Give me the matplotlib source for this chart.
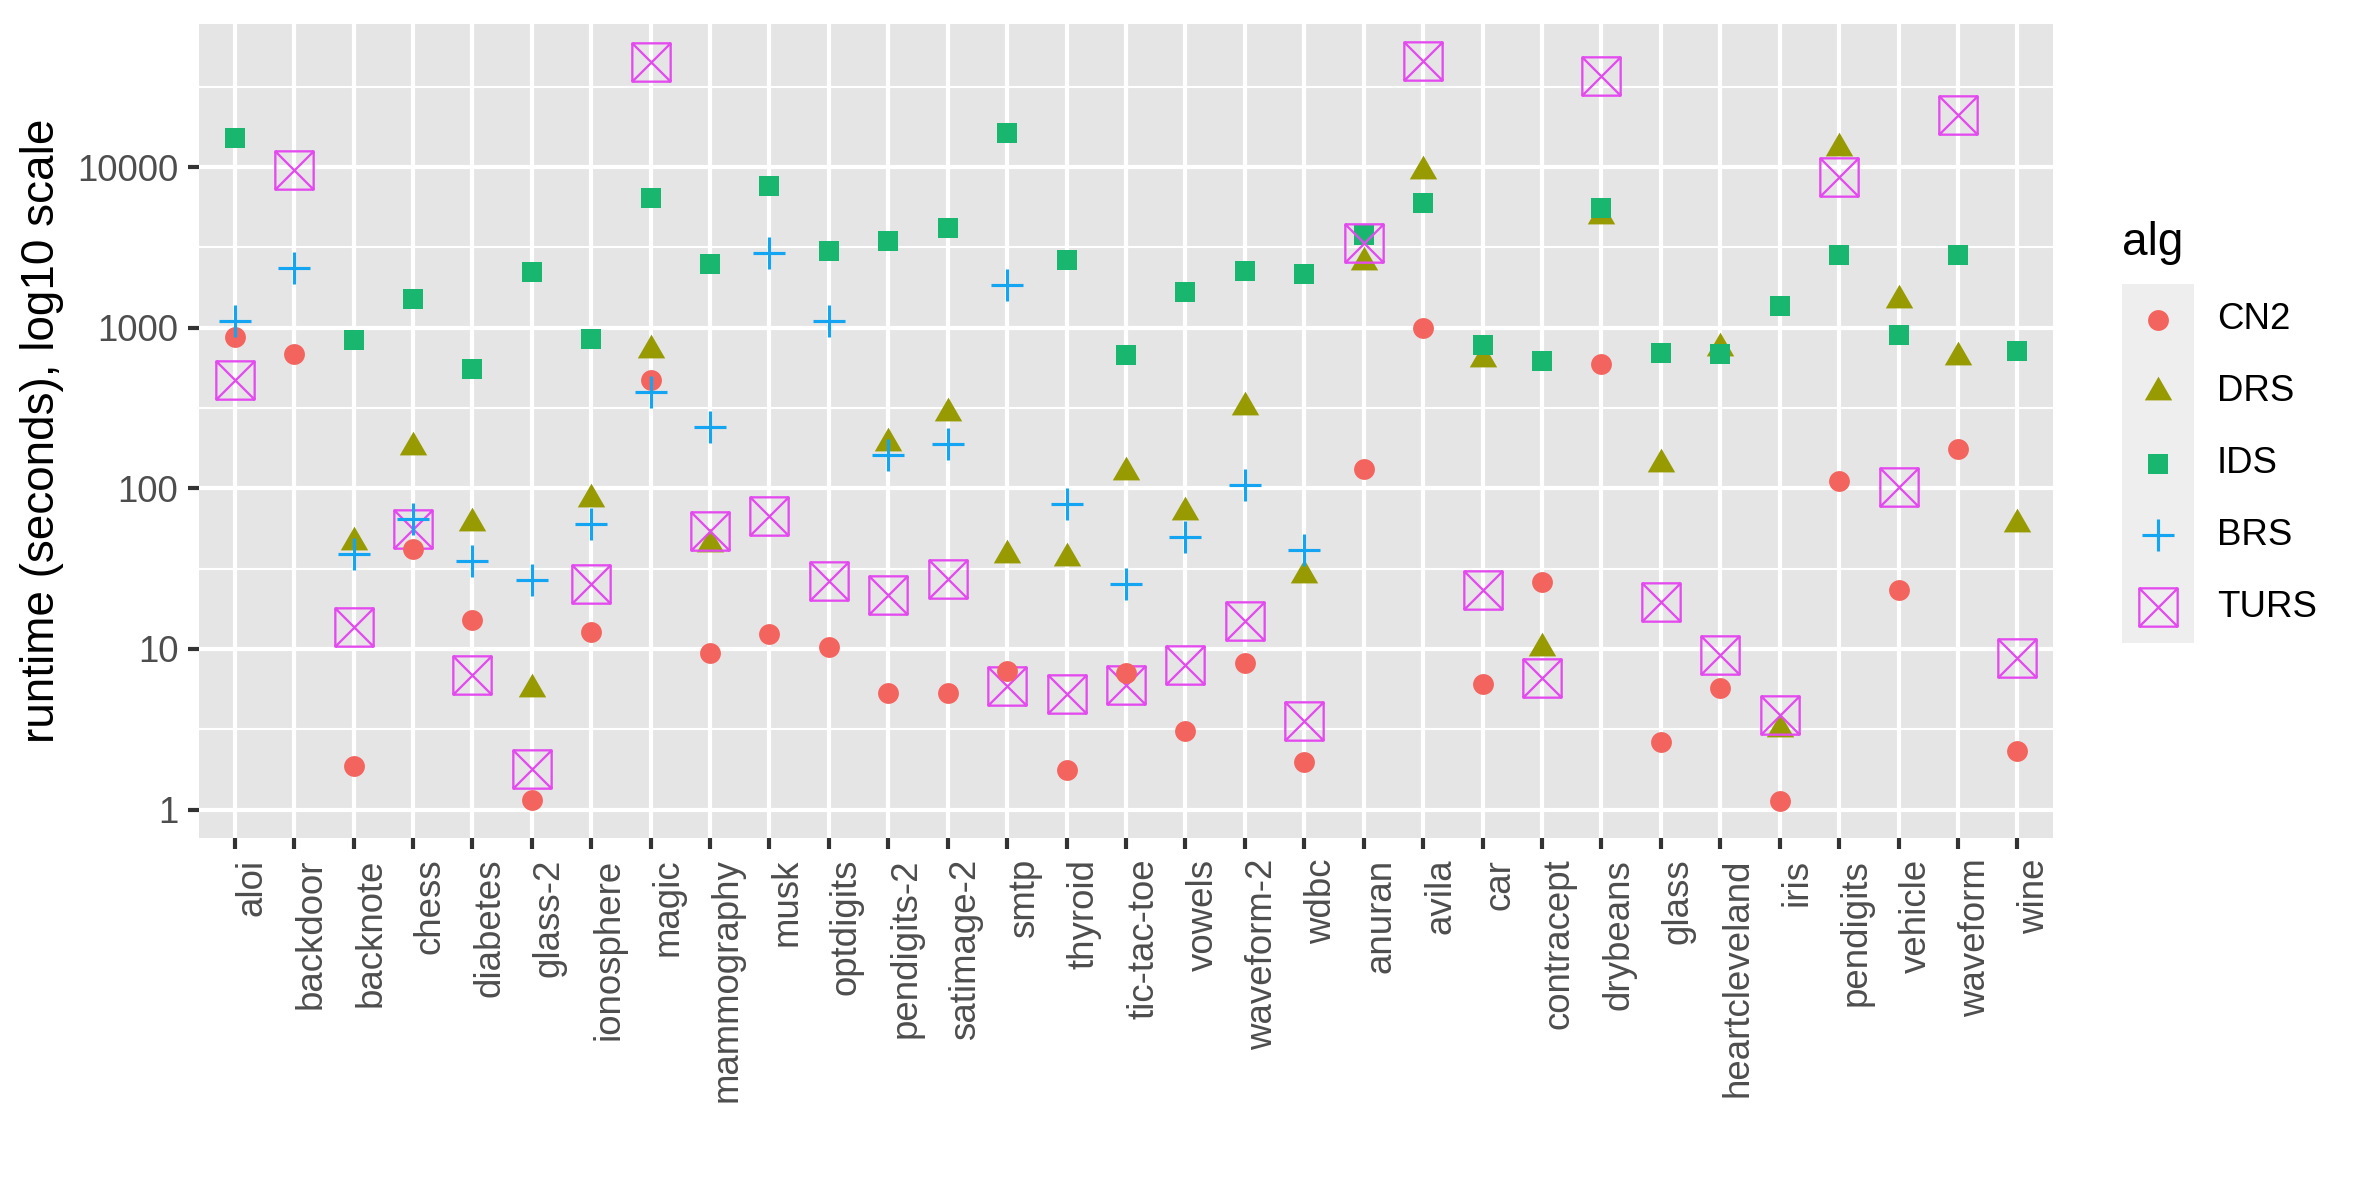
import numpy as np
import matplotlib.pyplot as plt
from matplotlib.path import Path

plt.rcParams['font.family'] = ['Liberation Sans', 'DejaVu Sans']

nan = np.nan

datasets = ["aloi", "backdoor", "backnote", "chess", "diabetes", "glass-2",
            "ionosphere", "magic", "mammography", "musk", "optdigits",
            "pendigits-2", "satimage-2", "smtp", "thyroid", "tic-tac-toe",
            "vowels", "waveform-2", "wdbc", "anuran", "avila", "car",
            "contracept", "drybeans", "glass", "heartcleveland", "iris",
            "pendigits", "vehicle", "waveform", "wine"]

# runtime in seconds (nan = no point)
cn2 = [879, 684, 1.86, 42, 15.1, 1.15, 12.8, 469, 9.4, 12.4, 10.3, 5.3, 5.3,
       7.3, 1.76, 7.1, 3.1, 8.15, 1.97, 131, 990, 6.05, 26, 593, 2.65, 5.7,
       1.13, 111, 23.4, 175, 2.3]
drs = [nan, nan, 46, 180, 61, 5.6, 86, 727, 45, nan, nan, 190, 295, 38.6, 37,
       126, 71, 320, 29, 2580, 9470, 634, 10.2, 4920, 141, 747, 3.18, 13150,
       1479, 652, 60]
ids = [15060, nan, 832, 1503, 553, 2228, 855, 6380, 2483, 7610, 3006, 3484,
       4200, 16260, 2653, 676, 1675, 2238, 2168, 3800, 6010, 776, 623, 5550,
       695, 684, 1361, 2845, 900, 2845, 714]
brs = [1094, 2350, 39, 64, 35.5, 27, 60, 398, 241, 2925, 1107, 162, 188, 1849,
       80, 25.2, 50, 105, 41.5, nan, nan, nan, nan, nan, nan, nan, nan, nan,
       nan, nan, nan]
turs = [469, 9572, 13.6, 56, 6.9, 1.79, 25.4, 44900, 54.5, 67.6, 26.6, 21.7,
        27.3, 5.9, 5.25, 5.95, 7.95, 14.9, 3.58, 3388, 45700, 23.4, 6.56,
        37100, 19.7, 9.1, 3.9, 8630, 102, 21140, 8.8]

algs = ["CN2", "DRS", "IDS", "BRS", "TURS"]
values = {"CN2": cn2, "DRS": drs, "IDS": ids, "BRS": brs, "TURS": turs}
yticks = [1, 10, 100, 1000, 10000]

# ggplot-like marker shapes
tri = Path([(-1, -0.577), (1, -0.577), (0, 1.155), (-1, -0.577)],
           [Path.MOVETO, Path.LINETO, Path.LINETO, Path.CLOSEPOLY])
boxx = Path([(-1, -1), (1, -1), (1, 1), (-1, 1), (-1, -1),
             (-1, -1), (1, 1), (-1, 1), (1, -1)],
            [Path.MOVETO, Path.LINETO, Path.LINETO, Path.LINETO, Path.CLOSEPOLY,
             Path.MOVETO, Path.LINETO, Path.MOVETO, Path.LINETO])

style = {
    "CN2": dict(marker="o", color="#F4645F", ms=5.0, mew=0, fill=True, z=5),
    "DRS": dict(marker=tri, color="#979A00", ms=7.6, mew=0, fill=True, z=2),
    "IDS": dict(marker="s", color="#19B66F", ms=4.8, mew=0, fill=True, z=3),
    "BRS": dict(marker="+", color="#13A4F2", ms=7.6, mew=0.75, fill=False, z=6),
    "TURS": dict(marker=boxx, color="#E34BEF", ms=9.2, mew=0.55, fill=False, z=4),
}


def draw(ax, x, y, st):
    if st["fill"]:
        ax.plot(x, y, ls="none", marker=st["marker"], ms=st["ms"],
                mfc=st["color"], mec=st["color"], mew=st["mew"],
                zorder=st["z"], clip_on=False)
    else:
        ax.plot(x, y, ls="none", marker=st["marker"], ms=st["ms"],
                mfc="none", mec=st["color"], mew=st["mew"],
                zorder=st["z"], clip_on=False)


fig = plt.figure(figsize=(2362 / 300, 1181 / 300), dpi=300)
ax = fig.add_axes([199 / 2362, 1 - 838 / 1181, 1854 / 2362, 814 / 1181])
ax.set_facecolor("#E5E5E5")
for s in ax.spines.values():
    s.set_visible(False)

x = np.arange(len(datasets))
for a in algs:
    draw(ax, x, np.array(values[a], dtype=float), style[a])

ax.set_yscale("log")
ax.set_yticks(yticks)
ax.set_yticklabels([str(t) for t in yticks])
minor = [10 ** (k + 0.5) for k in range(0, 5)]
ax.set_yticks(minor, minor=True)
ax.set_yticklabels([], minor=True)
ax.set_xticks(x)
ax.set_xticklabels(datasets, rotation=90, ha="left", va="top")

# limits after ticks (set_ticks can widen the view)
allv = np.concatenate([np.array(values[a], dtype=float) for a in algs])
lo, hi = np.log10(np.nanmin(allv)), np.log10(np.nanmax(allv))
pad = 0.05 * (hi - lo)
ax.set_ylim(10 ** (lo - pad), 10 ** (hi + pad))
ax.set_xlim(-0.6, len(datasets) - 0.4)

ax.tick_params(axis="both", which="major", length=2.75, width=1.0,
               color="#333333", labelcolor="#4D4D4D", labelsize=8.8, pad=2.2)
ax.tick_params(axis="y", which="minor", length=0)
ax.tick_params(axis="x", which="minor", length=0)
ax.grid(True, which="major", color="white", lw=1.0)
ax.grid(True, which="minor", axis="y", color="white", lw=0.5)
ax.set_axisbelow(True)

ax.set_ylabel("runtime (seconds), log10 scale", fontsize=11, color="black",
              va="center")
ax.yaxis.set_label_coords((42 - 199) / 1854, 0.5)

# legend drawn as a small key column like ggplot
lax = fig.add_axes([2122 / 2362, 1 - 643 / 1181, 72 / 2362, 359 / 1181])
lax.set_facecolor("#EEEEEE")
for s in lax.spines.values():
    s.set_visible(False)
lax.set_xticks([])
lax.set_yticks([])
lax.set_xlim(0, 1)
lax.set_ylim(len(algs), 0)
for i, a in enumerate(algs):
    draw(lax, [0.5], [i + 0.5], style[a])
    lax.text(1.32, i + 0.5, a, transform=lax.get_yaxis_transform(),
             fontsize=8.8, va="center", ha="left", color="black")
lax.text(0, -0.4, "alg", transform=lax.get_yaxis_transform(), fontsize=11,
         va="baseline", ha="left", color="black")

fig.savefig("out.png", dpi=300, facecolor="white")
